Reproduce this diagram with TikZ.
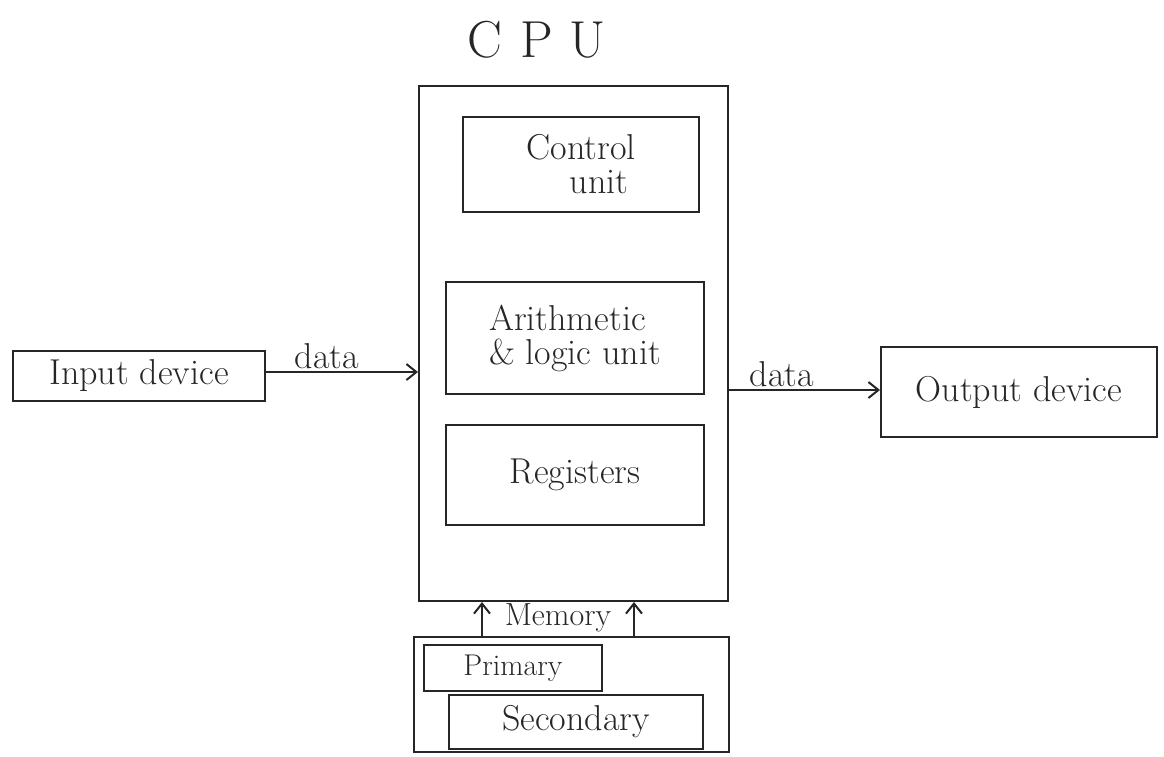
\documentclass[tikz,border=0pt]{standalone}
\usetikzlibrary{arrows.meta}
\begin{document}
\begin{tikzpicture}[x=1pt,y=-1pt,
  box/.style={draw=black!85, line width=2pt},
  lbl/.style={font=\fontsize{36}{34}\selectfont, text=black!85, inner sep=2pt},
  conn/.style={draw=black!85, line width=2pt, -{Straight Barb[length=10pt,width=16pt]}}]
\useasboundingbox (0,0) rectangle (1164,756);
% CPU
\node[lbl, font=\fontsize{52}{56}\selectfont] (cpulbl) at (537,40) {C\,\,P\,\,U};
\node[box, minimum width=309pt, minimum height=515pt, anchor=north west, inner sep=0pt] (cpu) at (418,85) {};
\node[box, lbl, minimum width=236pt, minimum height=95pt, align=center, anchor=north west] (cu) at (462,116) {Control\\\quad unit};
\node[box, lbl, minimum width=258pt, minimum height=112pt, align=left, anchor=north west] (alu) at (445,281) {Arithmetic\\\& logic unit};
\node[box, lbl, minimum width=258pt, minimum height=100pt, anchor=north west] (reg) at (445,424) {Registers};
% Input / Output
\node[box, lbl, minimum width=252pt, minimum height=50pt, anchor=north west] (in) at (12,350) {Input device};
\node[box, lbl, minimum width=276pt, minimum height=90pt, anchor=north west] (out) at (880,346) {Output device};
\draw[conn] (in.east |- 0,372) -- node[lbl, above, pos=0.4] {data} (cpu.west |- 0,372);
\draw[conn] (cpu.east |- 0,390) -- node[lbl, above, pos=0.35] {data} (out.west |- 0,390);
% Memory
\node[box, minimum width=315pt, minimum height=115pt, anchor=north west, inner sep=0pt] (mem) at (413,636) {};
\node[lbl, font=\fontsize{32}{34}\selectfont] (memlbl) at (558,618) {Memory};
\coordinate (m1) at (482,636);
\coordinate (m2) at (634,636);
\draw[conn] (m1) -- (m1 |- cpu.south);
\draw[conn] (m2) -- (m2 |- cpu.south);
\node[box, lbl, font=\fontsize{30}{32}\selectfont, minimum width=178pt, minimum height=46pt, anchor=north west] (prim) at (423,644) {Primary};
\node[box, lbl, minimum width=254pt, minimum height=54pt, anchor=north west] (sec) at (448,694) {Secondary};
\end{tikzpicture}
\end{document}
